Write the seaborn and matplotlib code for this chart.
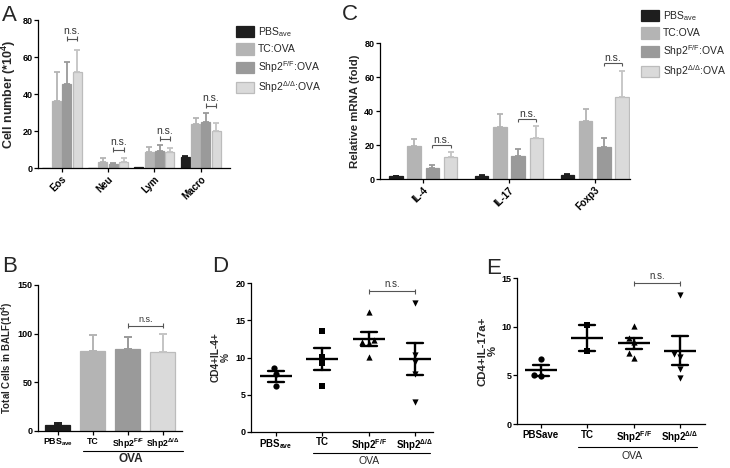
import numpy as np
import pandas as pd
import matplotlib
matplotlib.use("Agg")
import matplotlib.pyplot as plt
import matplotlib.transforms as mtransforms
from matplotlib.patches import Patch
import seaborn as sns

# ---------------- data ----------------
series_labels = ["PBS$_{ave}$", "TC:OVA", "Shp2$^{F/F}$:OVA", "Shp2$^{Δ/Δ}$:OVA"]

a_cells = ["Eos", "Neu", "Lym", "Macro"]
a_pbs = [0.0, 0.0, 0.5, 6.0]
a_pbs_err = [0.0, 0.0, 0.0, 0.8]
a_tc = [36.2, 3.6, 9.0, 23.8]
a_tc_err = [15.5, 1.8, 2.4, 3.6]
a_ff = [45.7, 2.5, 9.4, 24.9]
a_ff_err = [11.9, 0.5, 2.9, 5.2]
a_dd = [51.9, 3.4, 9.0, 20.0]
a_dd_err = [11.7, 2.0, 1.8, 4.7]
a_ns_y = [70.0, 10.0, 15.9, 33.7]

c_genes = ["IL-4", "IL-17", "Foxp3"]
c_pbs = [1.8, 2.0, 2.8]
c_pbs_err = [0.3, 0.3, 0.5]
c_tc = [19.8, 30.6, 34.5]
c_tc_err = [4.1, 7.8, 6.9]
c_ff = [6.8, 13.9, 19.2]
c_ff_err = [1.8, 3.9, 5.1]
c_dd = [12.9, 24.3, 48.4]
c_dd_err = [3.3, 7.1, 15.5]
c_ns_y = [20.0, 35.7, 68.6]

b_groups = ["PBS$_{ave}$", "TC", "Shp2$^{F/F}$", "Shp2$^{Δ/Δ}$"]
b_vals = [6.5, 81.8, 84.6, 81.2]
b_err = [1.4, 16.8, 12.3, 18.8]
b_ns_y = 108.2

d_groups = ["PBS$_{ave}$", "TC", "Shp2$^{F/F}$", "Shp2$^{Δ/Δ}$"]
d_pbs = [8.6, 7.8, 6.1]
d_tc = [10.1, 13.6, 9.25, 6.2]
d_ff = [16.1, 11.9, 12.1, 12.3, 10.1]
d_dd = [17.3, 10.3, 9.4, 7.8, 4.0]
d_ns_y = 18.9

e_groups = ["PBSave", "TC", "Shp2$^{F/F}$", "Shp2$^{Δ/Δ}$"]
e_pbs = [6.7, 4.9, 5.0]
e_tc = [10.24, 7.5]
e_ff = [10.1, 8.9, 8.4, 6.8, 7.3]
e_dd = [13.3, 7.2, 6.9, 5.7, 4.7]
e_ns_y = 14.5

# ---------------- style ----------------
sns.set_theme(style="ticks")
plt.rcParams["font.family"] = ["Liberation Sans", "DejaVu Sans"]
plt.rcParams["font.weight"] = "bold"
plt.rcParams["axes.labelweight"] = "bold"
plt.rcParams["mathtext.default"] = "regular"
plt.rcParams["axes.linewidth"] = 0.9
plt.rcParams["xtick.major.width"] = 0.9
plt.rcParams["ytick.major.width"] = 0.9
plt.rcParams["xtick.major.size"] = 2.6
plt.rcParams["ytick.major.size"] = 2.6
plt.rcParams["xtick.major.pad"] = 1.5
plt.rcParams["ytick.major.pad"] = 1.5
plt.rcParams["axes.edgecolor"] = "black"
plt.rcParams["xtick.color"] = "black"
plt.rcParams["ytick.color"] = "black"

W, H = 730, 468
fig = plt.figure(figsize=(W / 100, H / 100), dpi=100)


def rect(l, t, r, b):
    return [l / W, 1 - b / H, (r - l) / W, (b - t) / H]


bar_colors = ["#1e1e1e", "#b4b4b4", "#9a9a9a", "#dadada"]
edge_colors = ["#1e1e1e", "#b4b4b4", "#9a9a9a", "#bcbcbc"]
err_colors = ["#1e1e1e", "#b4b4b4", "#9a9a9a", "#c4c4c4"]


def bracket(ax, x1, x2, y, up_px, down_px, text, fs, pad_pt, color="#555555"):
    y0, y1 = ax.get_ylim()
    h_px = ax.get_position().height * H
    u = (y1 - y0) / h_px
    kw = dict(color=color, lw=0.8, clip_on=False, solid_capstyle="butt")
    ax.plot([x1, x2], [y, y], **kw)
    for x in (x1, x2):
        ax.plot([x, x], [y - down_px * u, y + up_px * u], **kw)
    ax.annotate(text, ((x1 + x2) / 2, y), xytext=(0, pad_pt),
                textcoords="offset points", ha="center", va="bottom",
                fontsize=fs, fontweight="normal", color="#333333")


def grouped_bars(ax, cats, vals, errs, width, gap, capsize):
    rows = []
    for lab, vs in zip(series_labels, vals):
        for c, v in zip(cats, vs):
            rows.append({"cat": c, "val": v, "series": lab})
    df = pd.DataFrame(rows)
    sns.barplot(data=df, x="cat", y="val", hue="series", order=cats,
                hue_order=series_labels, palette=bar_colors, width=width,
                gap=gap, errorbar=None, saturation=1, legend=False, ax=ax,
                linewidth=0.9)
    bars = list(ax.containers)
    for i, cont in enumerate(bars):
        for patch, e in zip(cont, errs[i]):
            patch.set_edgecolor(edge_colors[i])
            x = patch.get_x() + patch.get_width() / 2
            h = patch.get_height()
            if e > 0:
                ax.errorbar(x, h, yerr=[[0], [e]], color=err_colors[i],
                            capsize=capsize, elinewidth=1.3, capthick=1.3,
                            zorder=1)
    return bars


def fmt_axes(ax, ylim, yticks, xlim):
    ax.set_ylim(*ylim)
    ax.set_yticks(yticks)
    ax.set_xlim(*xlim)
    sns.despine(ax=ax)
    ax.tick_params(axis="both", labelsize=6.5)


# ---------------- Panel A ----------------
axA = fig.add_axes(rect(38.3, 20, 230, 168.3))
contA = grouped_bars(axA, a_cells, [a_pbs, a_tc, a_ff, a_dd],
                     [a_pbs_err, a_tc_err, a_ff_err, a_dd_err], 0.89, 0.12, 2.2)
fmt_axes(axA, (0, 80), [0, 20, 40, 60, 80], (-0.505, 3.63))
axA.set_xlabel("")
axA.set_ylabel("Cell number (*10$^{4}$)", fontsize=9.0, labelpad=3)
axA.set_xticks(range(len(a_cells)))
axA.set_xticklabels(a_cells, rotation=45, ha="right", rotation_mode="anchor",
                    fontsize=7)
for j, y in enumerate(a_ns_y):
    p1, p2 = contA[2][j], contA[3][j]
    bracket(axA, p1.get_x() + p1.get_width() / 2, p2.get_x() + p2.get_width() / 2,
            y, 2.5, 2.5, "n.s.", 7.5, 2.0)

# ---------------- Panel C ----------------
axC = fig.add_axes(rect(380, 43.3, 630, 179.3))
contC = grouped_bars(axC, c_genes, [c_pbs, c_tc, c_ff, c_dd],
                     [c_pbs_err, c_tc_err, c_ff_err, c_dd_err], 0.852, 0.26, 2.5)
fmt_axes(axC, (0, 80), [0, 20, 40, 60, 80], (-0.503, 2.41))
axC.set_xlabel("")
axC.set_ylabel("Relative mRNA (fold)", fontsize=8.2, labelpad=3)
axC.set_xticks(range(len(c_genes)))
axC.set_xticklabels(c_genes, rotation=45, ha="right", rotation_mode="anchor",
                    fontsize=7)
for j, y in enumerate(c_ns_y):
    p1, p2 = contC[2][j], contC[3][j]
    bracket(axC, p1.get_x() + p1.get_width() / 2, p2.get_x() + p2.get_width() / 2,
            y, 0, 3, "n.s.", 7.5, 0.0)

# legends A and C
handles = [Patch(facecolor=bar_colors[i], edgecolor=edge_colors[i], linewidth=0.9)
           for i in range(4)]
for (lx, ly) in [(236 / W, 1 - 25 / H), (641 / W, 1 - 9 / H)]:
    fig.legend(handles, series_labels, loc="upper left", bbox_to_anchor=(lx, ly),
               frameon=False, prop={"size": 7.5, "weight": "normal"},
               handlelength=1.75, handleheight=1.25, labelspacing=0.45,
               handletextpad=0.35, borderaxespad=0, borderpad=0)

# ---------------- Panel B ----------------
axB = fig.add_axes(rect(38.3, 285, 181.7, 431))
sns.barplot(x=b_groups, y=b_vals, hue=b_groups, order=b_groups,
            hue_order=b_groups, palette=bar_colors, width=0.7, errorbar=None,
            saturation=1, legend=False, ax=axB, linewidth=0.9)
barsB = list(axB.containers)
for i, cont in enumerate(barsB):
    for patch in cont:
        patch.set_edgecolor(edge_colors[i])
        x = patch.get_x() + patch.get_width() / 2
        axB.errorbar(x, patch.get_height(), yerr=[[0], [b_err[i]]],
                     color=err_colors[i], capsize=3.2, elinewidth=1.4,
                     capthick=1.4, zorder=1)
fmt_axes(axB, (0, 150), [0, 50, 100, 150], (-0.55, 3.54))
axB.set_ylabel("Total Cells in BALF(10$^{4}$)", fontsize=7.0, labelpad=1.5)
axB.set_xticks(range(4))
axB.set_xticklabels(b_groups, fontsize=6.3)
bracket(axB, 2, 3, b_ns_y, 2.5, 2.5, "n.s.", 6.5, 1.5)
trB = mtransforms.blended_transform_factory(axB.transData, axB.transAxes)
axB.plot([0.72, 3.58], [-0.137, -0.137], transform=trB, color="black", lw=0.8,
         clip_on=False)
axB.text(2.1, -0.19, "OVA", transform=trB, ha="center", va="center",
         fontsize=8.5, fontweight="bold")


# ---------------- dot panels D and E ----------------
def dot_panel(ax, groups, data_lists, markers):
    df = pd.DataFrame({
        "group": np.repeat(groups, [len(d) for d in data_lists]),
        "val": np.concatenate([np.asarray(d, float) for d in data_lists]),
    })
    for g, m in zip(groups, markers):
        sub = df[df["group"] == g]
        sns.swarmplot(data=sub, x="group", y="val", order=groups, marker=m,
                      color="black", size=4.5, ax=ax, zorder=3)
    sns.pointplot(data=df, x="group", y="val", order=groups, errorbar="se",
                  capsize=0.35, linestyle="none", marker="_", markersize=23,
                  markeredgewidth=1.7, color="black",
                  err_kws={"linewidth": 1.7}, ax=ax)
    ax.set_xlabel("")
    ax.set_ylabel("")


markers = ["o", "s", "^", "v"]

axD = fig.add_axes(rect(251, 283.3, 433, 431.7))
dot_panel(axD, d_groups, [d_pbs, d_tc, d_ff, d_dd], markers)
fmt_axes(axD, (0, 20), [0, 5, 10, 15, 20], (-0.54, 3.39))
axD.set_ylabel("CD4+IL-4+\n%", fontsize=7.3, labelpad=3, linespacing=1.0)
axD.set_xticks(range(4))
axD.set_xticklabels(d_groups, fontsize=7)
bracket(axD, 2, 3, d_ns_y, 2.5, 2.5, "n.s.", 7, 1.5)
trD = mtransforms.blended_transform_factory(axD.transData, axD.transAxes)
axD.plot([0.8, 3.33], [-0.141, -0.141], transform=trD, color="black", lw=0.8,
         clip_on=False)
axD.text(2.0, -0.197, "OVA", transform=trD, ha="center", va="center",
         fontsize=7.5, fontweight="normal")

axE = fig.add_axes(rect(517.3, 278.3, 705, 424))
dot_panel(axE, e_groups, [e_pbs, e_tc, e_ff, e_dd], markers)
fmt_axes(axE, (0, 15), [0, 5, 10, 15], (-0.51, 3.54))
axE.set_ylabel("CD4+IL-17a+\n%", fontsize=8.2, labelpad=3, linespacing=1.0)
axE.set_xticks(range(4))
axE.set_xticklabels(e_groups, fontsize=7)
bracket(axE, 2, 3, e_ns_y, 2.5, 2.5, "n.s.", 7, 1.5)
trE = mtransforms.blended_transform_factory(axE.transData, axE.transAxes)
axE.plot([0.8, 3.37], [-0.156, -0.156], transform=trE, color="black", lw=0.8,
         clip_on=False)
axE.text(1.96, -0.22, "OVA", transform=trE, ha="center", va="center",
         fontsize=7.5, fontweight="normal")

# ---------------- panel letters ----------------
for lab, x, y in [("A", 2, 5), ("C", 342, 4), ("B", 2, 256), ("D", 212, 256),
                  ("E", 486, 258)]:
    fig.text(x / W, 1 - y / H, lab, ha="left", va="top", fontsize=16,
             fontweight="normal")

fig.savefig("out.png", dpi=100, facecolor="white")
